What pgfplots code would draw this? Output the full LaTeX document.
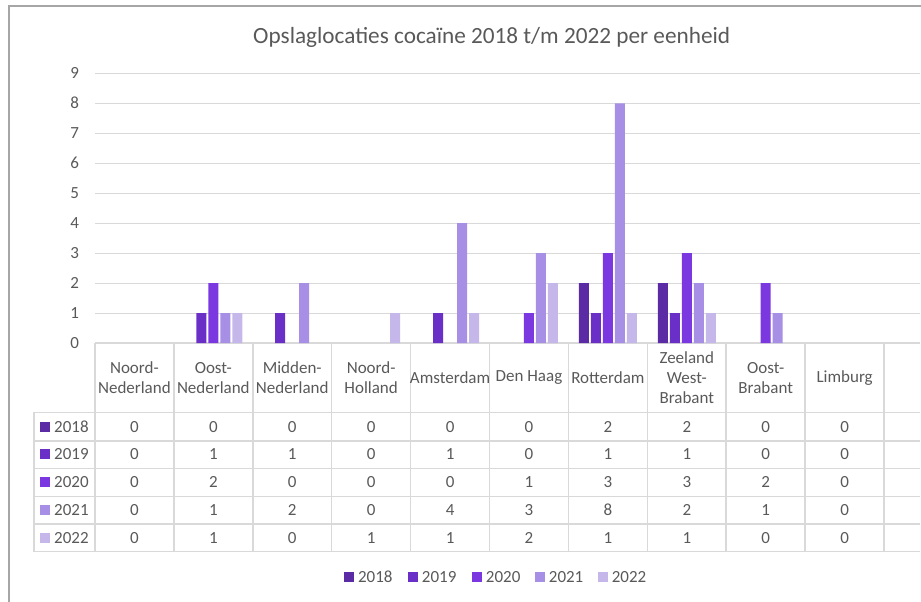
\documentclass[border=0pt]{standalone}
\usepackage{pgfplots}
\pgfplotsset{compat=1.18}
\usepackage{pgfplotstable}
\usepackage{fontspec}
\setmainfont{Carlito}
\definecolor{c18}{HTML}{5B2BA6}
\definecolor{c19}{HTML}{6A2FC6}
\definecolor{c20}{HTML}{7B38E0}
\definecolor{c21}{HTML}{A68FE5}
\definecolor{c22}{HTML}{C6B7EB}
\definecolor{txt}{HTML}{595959}
\definecolor{gridc}{HTML}{D9D9D9}
\definecolor{borderc}{HTML}{A6A6A6}

\pgfplotstableread{
x y2018 y2019 y2020 y2021 y2022
0 0 0 0 0 0
1 0 1 2 1 1
2 0 1 0 2 0
3 0 0 0 0 1
4 0 1 0 4 1
5 0 0 1 3 2
6 2 1 3 8 1
7 2 1 3 2 1
8 0 0 2 1 0
9 0 0 0 0 0
}\data

\newcommand{\tfont}{\fontsize{12.8}{15}\selectfont}

\begin{document}
\begin{tikzpicture}
\begin{scope}[x=0.75bp,y=-0.75bp]
 \useasboundingbox (0,0) rectangle (921,602);
 % chart border
 \draw[borderc, line width=0.9bp] (9,602) -- (9,6) -- (925,6);
 % title
 \node[text=txt, font=\fontsize{17.5}{21}\selectfont] at (492,37) {Opslaglocaties cocaïne 2018 t/m 2022 per eenheid};
 % table lines
 \draw[gridc, line width=1.2bp] (95,343.3) -- (921,343.3);
 \foreach \yy in {412.7,441,469,496.7,524.3,552} {
   \draw[gridc, line width=1.2bp] (34,\yy) -- (921,\yy);
 }
 \draw[gridc, line width=1.2bp] (34,412.7) -- (34,552);
 \foreach \k in {0,...,10} {
   \draw[gridc, line width=1.2bp] ({95+78.97*\k},343.3) -- ({95+78.97*\k},552);
 }
 % headers
 \foreach \k/\lab in {0/{Noord-\\Nederland},1/{Oost-\\Nederland},2/{Midden-\\Nederland},3/{Noord-\\Holland},4/{Amsterdam},5/{Den Haag},6/{Rotterdam},7/{Zeeland\\West-\\Brabant},8/{Oost-\\Brabant},9/{Limburg}} {
   \node[text=txt, font=\tfont, align=center, inner sep=0pt] at ({95+78.97*(\k+0.5)},378) {\lab};
 }
 % values
 \foreach \c/\col [count=\i from 0] in {y2018/c18,y2019/c19,y2020/c20,y2021/c21,y2022/c22} {
   \foreach \r in {0,...,9} {
     \pgfplotstablegetelem{\r}{\c}\of\data
     \node[text=txt, font=\tfont, inner sep=0pt] at ({95+78.97*(\r+0.5)},{426.9+27.85*\i}) {\pgfplotsretval};
   }
 }
 % row labels
 \foreach \lab/\col [count=\i from 0] in {2018/c18,2019/c19,2020/c20,2021/c21,2022/c22} {
   \fill[\col] (40,{426.9+27.85*\i-5}) rectangle (50,{426.9+27.85*\i+5});
   \node[text=txt, font=\tfont, anchor=west, inner sep=0pt] at (54,{426.9+27.85*\i}) {\lab};
 }
 % legend
 \foreach \lab/\col/\xx in {2018/c18/344,2019/c19/408,2020/c20/472,2021/c21/535,2022/c22/598} {
   \fill[\col] (\xx,572) rectangle ({\xx+10},582);
   \node[text=txt, font=\tfont, anchor=west, inner sep=0pt] at ({\xx+14},577) {\lab};
 }
\end{scope}
\begin{axis}[
  at={(71.25bp,-257.475bp)}, anchor=south west,
  scale only axis, width=619.5bp, height=202.5bp,
  xmin=-0.5, xmax=9.96, ymin=0, ymax=9,
  ytick={0,...,9}, xtick=\empty,
  ymajorgrids, grid style={gridc, line width=0.9bp},
  axis line style={draw=none}, major tick length=0pt,
  ybar=1.5bp, bar width=7.5bp,
  tick label style={font=\tfont, text=txt},
  yticklabel style={xshift=-8.5bp},
  /pgf/number format/assume math mode=true,
  unbounded coords=discard,
  y filter/.expression={y==0 ? nan : y},
]
\addplot[fill=c18, draw=none] table[x=x,y=y2018]{\data};
\addplot[fill=c19, draw=none] table[x=x,y=y2019]{\data};
\addplot[fill=c20, draw=none] table[x=x,y=y2020]{\data};
\addplot[fill=c21, draw=none] table[x=x,y=y2021]{\data};
\addplot[fill=c22, draw=none] table[x=x,y=y2022]{\data};
\end{axis}
\end{tikzpicture}
\end{document}
